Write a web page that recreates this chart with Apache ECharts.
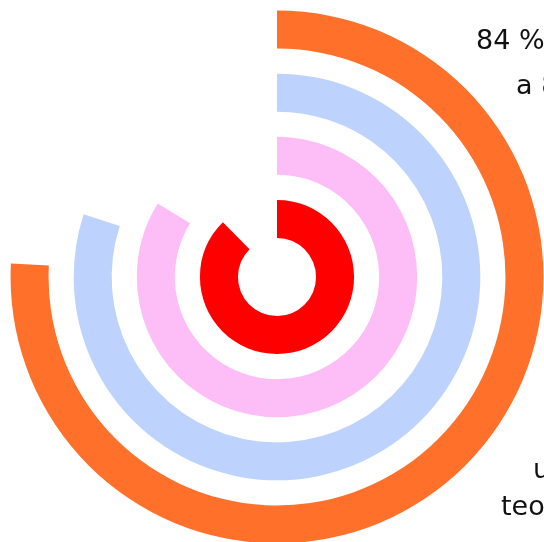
<!DOCTYPE html>
<html>
<head>
<meta charset="utf-8">
<title>anéis</title>
<script src="https://cdn.jsdelivr.net/npm/echarts@6/dist/echarts.min.js"></script>
<style>
  html, body { margin: 0; padding: 0; background: #fff; }
  #container { width: 544px; height: 542px; }
</style>
</head>
<body>
<div id="container"></div>
<script>
// dados: do anel interno para o externo
var categorias = ['A', 'B', 'C', 'D'];
var valores = [87.6, 83.8, 80.0, 75.8];
var cores = ['#ff0000', '#fdbdf7', '#bdd3fd', '#ff702a'];

// textos à direita (cortados pela borda)
var rotulosTopo = ['84 % da meta', 'a 88 % do total'];
var rotulosBase = ['um valor', 'teoria'];

var fonte = '27px "DejaVu Sans", sans-serif';

var myChart = echarts.init(document.getElementById('container'));

var dados = valores.map(function (v, i) {
    return { value: v, itemStyle: { color: cores[i] } };
});

var option = {
    animation: false,
    polar: {
        center: [277, 277],
        radius: [26.5, 279]
    },
    angleAxis: {
        type: 'value',
        min: 0,
        max: 100,
        startAngle: 90,
        clockwise: true,
        show: false
    },
    radiusAxis: {
        type: 'category',
        data: categorias,
        show: false
    },
    graphic: [
        { type: 'text', style: { text: rotulosTopo[0], x: 476, y: 42, verticalAlign: 'middle', font: fonte, fill: '#111' } },
        { type: 'text', style: { text: rotulosTopo[1], x: 516, y: 87, verticalAlign: 'middle', font: fonte, fill: '#111' } },
        { type: 'text', style: { text: rotulosBase[0], x: 533, y: 471, verticalAlign: 'middle', font: fonte, fill: '#111' } },
        { type: 'text', style: { text: rotulosBase[1], x: 501, y: 508, verticalAlign: 'middle', font: fonte, fill: '#111' } }
    ],
    series: [{
        type: 'bar',
        coordinateSystem: 'polar',
        barWidth: 38,
        data: dados
    }]
};
myChart.setOption(option);
</script>
</body>
</html>
